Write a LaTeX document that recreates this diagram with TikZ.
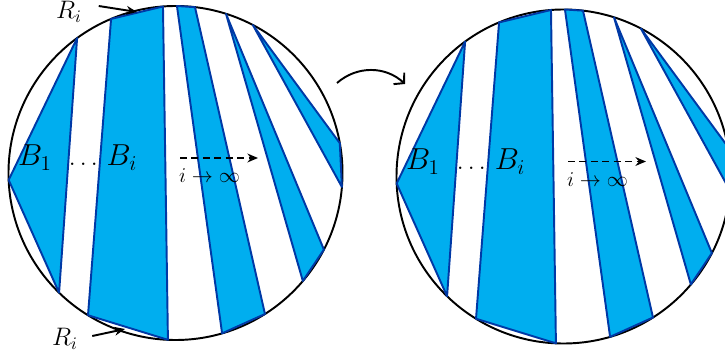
\documentclass[tikz,border=0pt]{standalone}
\usepackage{amsmath}
\usepackage{amssymb}
\usepackage{tikz}
\usetikzlibrary{arrows.meta}

\definecolor{stripefill}{HTML}{00AEEF}
\definecolor{stripeline}{HTML}{0039A6}

\begin{document}
\begin{tikzpicture}
    \tikzset{
        disc/.style={line width=1.1pt, black},
        stripe/.style={line width=1.1pt, stripeline, fill=stripefill, line join=round},
        blabel/.style={anchor=base, inner sep=0pt, font=\LARGE},
        rlabel/.style={inner sep=0pt, font=\Large},
        ilabel/.style={inner sep=0pt, font=\large},
        arr/.style={line width=1.1pt, -{Stealth[length=6pt, width=5pt]}}
    }
    \def\rad{3.34}
    \useasboundingbox (-3.51,-3.70) rectangle (10.99,3.46);

    % The disc before and after
    \foreach \s/\sx/\sy in {L/0/0, R/7.76/-0.07} {
    \begin{scope}[shift={(\sx,\sy)}]
        \draw[disc] (0,0) circle (\rad);

        % Strips
        \draw[stripe] (126.1:\rad) -- (182.4:\rad) -- (225.8:\rad) -- cycle;
        \draw[stripe] (112.7:\rad) -- (94.3:\rad) -- (267.4:\rad) -- (238.4:\rad) -- cycle;
        \draw[stripe] (89.5:\rad) -- (83.3:\rad) -- (302.4:\rad) -- (286.2:\rad) -- cycle;
        \draw[stripe] (72.4:\rad) -- (332.7:\rad) -- (319.7:\rad) -- cycle;
        \draw[stripe] (62.4:\rad) -- (10.3:\rad) -- (355.2:\rad) -- cycle;

        % Labels
        \node[blabel] (b1-\s) at (-2.81,0.14) {$B_1$};
        \node[blabel, font=\Large] (dots-\s) at (-1.80,0.14) {$\dots$};
        \node[blabel] (bi-\s) at (-1.07,0.14) {$B_i$};

        % Limit
        \coordinate (lim start-\s) at (0.09,0.30);
        \coordinate (lim end-\s) at (1.65,0.30);
        \draw[arr, dash pattern=on 4pt off 2.5pt] (lim start-\s) -- (lim end-\s);
        \node[ilabel] (lim-\s) at (0.68,-0.06) {$i\to\infty$};
    \end{scope}
    }

    % Boundary pieces R_i
    \node[rlabel] (rtop) at (-2.13,3.22) {$R_i$};
    \coordinate (rtop tip) at (-0.77,3.22);
    \draw[arr] (rtop.east) ++(0.33,0.12) -- (rtop tip);
    \node[rlabel] (rbot) at (-2.21,-3.32) {$R_i$};
    \coordinate (rbot tip) at (-1.01,-3.12);
    \draw[arr] (rbot.east) ++(0.28,0.06) -- (rbot tip);

    % Map between the discs
    \coordinate (map start) at (3.23,1.80);
    \coordinate (map end) at (4.59,1.78);
    \draw[line width=1.1pt, -{Straight Barb[length=4pt, width=9pt]}]
        (map start) to[bend left=42] (map end);
\end{tikzpicture}
\end{document}
